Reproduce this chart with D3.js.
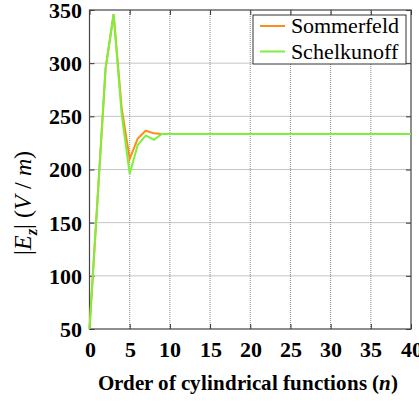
<!DOCTYPE html>
<html><head><meta charset="utf-8">
<script src="https://cdn.jsdelivr.net/npm/d3@7"></script>
<style>
@font-face{font-family:"RefSerif";font-weight:normal;font-style:normal;src:local("Liberation Serif"),local("LiberationSerif"),local("Tinos"),local("Times New Roman");}
@font-face{font-family:"RefSerif";font-weight:bold;font-style:normal;src:local("Liberation Serif Bold"),local("LiberationSerif-Bold"),local("Times New Roman Bold");}
@font-face{font-family:"RefSerif";font-weight:normal;font-style:italic;src:local("Liberation Serif Italic"),local("LiberationSerif-Italic"),local("Times New Roman Italic");}
@font-face{font-family:"RefSerif";font-weight:bold;font-style:italic;src:local("Liberation Serif Bold Italic"),local("LiberationSerif-BoldItalic"),local("Times New Roman Bold Italic");}
body{margin:0;background:#fff}
svg{display:block}
svg text{font-family:"RefSerif","Liberation Serif",serif}
</style>
</head><body>
<script>
const orders = d3.range(0, 41);
const sommerfeld = [50,172,295,346,258,210,229,236.5,234,233.5,233.5,233.5,233.5,233.5,233.5,233.5,233.5,233.5,233.5,233.5,233.5,233.5,233.5,233.5,233.5,233.5,233.5,233.5,233.5,233.5,233.5,233.5,233.5,233.5,233.5,233.5,233.5,233.5,233.5,233.5,233.5];
const schelkunoff = [50,172,295,346,252,196,223,232,228,233.5,233.5,233.5,233.5,233.5,233.5,233.5,233.5,233.5,233.5,233.5,233.5,233.5,233.5,233.5,233.5,233.5,233.5,233.5,233.5,233.5,233.5,233.5,233.5,233.5,233.5,233.5,233.5,233.5,233.5,233.5,233.5];
const xTicks = [0,5,10,15,20,25,30,35,40];
const yTicks = [50,100,150,200,250,300,350];
const seriesNames = ["Sommerfeld","Schelkunoff"];
const seriesColors = ["#ff8c1a","#7cf03a"];

const W=419,H=402;
const L=89.5,R=411,T=10,B=329;
const svg=d3.select("body").append("svg").attr("width",W).attr("height",H);

const x=d3.scaleLinear().domain([0,40]).range([L,R]);
const y=d3.scaleLinear().domain([50,350]).range([B,T]);
const g=svg.append("g");
g.selectAll(".gx").data(xTicks.slice(1,-1)).join("line")
 .attr("x1",d=>x(d)).attr("x2",d=>x(d)).attr("y1",T).attr("y2",B)
 .attr("stroke","#888").attr("stroke-width",1).attr("stroke-dasharray","1,1");
g.selectAll(".gy").data(yTicks.slice(1,-1)).join("line")
 .attr("y1",d=>y(d)).attr("y2",d=>y(d)).attr("x1",L).attr("x2",R)
 .attr("stroke","#888").attr("stroke-width",1).attr("stroke-dasharray","1,1");

const ax=svg.append("g").attr("transform",`translate(0,${B})`).call(d3.axisBottom(x).tickValues(xTicks).tickSize(-5).tickPadding(12));
const ay=svg.append("g").attr("transform",`translate(${L},0)`).call(d3.axisLeft(y).tickValues(yTicks).tickSize(-5).tickPadding(8));
svg.append("g").attr("transform",`translate(0,${T})`).call(d3.axisTop(x).tickValues(xTicks).tickSize(-5).tickFormat(""));
svg.append("g").attr("transform",`translate(${R},0)`).call(d3.axisRight(y).tickValues(yTicks).tickSize(-5).tickFormat(""));
svg.selectAll(".domain").remove();
svg.selectAll(".tick line").attr("stroke","#333");
svg.selectAll("g").attr("font-family",null);
[ax,ay].forEach(a=>{
 a.selectAll("text").attr("font-weight","bold").attr("font-size",22).attr("fill","#000");});
ax.selectAll("text").attr("dy","0.71em");
ay.selectAll("text").attr("dy","0.34em");
svg.append("rect").attr("x",L).attr("y",T).attr("width",R-L).attr("height",B-T)
 .attr("fill","none").attr("stroke","#444").attr("stroke-width",1.2);

const line=d3.line().x((d,i)=>x(orders[i])).y(d=>y(d));
[sommerfeld,schelkunoff].forEach((s,k)=>{
 svg.append("path").datum(s).attr("d",line).attr("fill","none")
  .attr("stroke",seriesColors[k]).attr("stroke-width",2);
});

const lg=svg.append("g");
lg.append("rect").attr("x",253).attr("y",15).attr("width",153).attr("height",49)
 .attr("fill","#fff").attr("stroke","#333").attr("stroke-width",1);
seriesNames.forEach((n,i)=>{
 const yy=26+i*25.5;
 lg.append("line").attr("x1",260).attr("x2",285).attr("y1",yy).attr("y2",yy)
  .attr("stroke",seriesColors[i]).attr("stroke-width",2);
 lg.append("text").attr("x",291).attr("y",yy+7).attr("font-size",22).attr("fill","#000").text(n);
});

const xt=svg.append("text").attr("x",248).attr("y",390).attr("text-anchor","middle")
 .attr("font-weight","bold").attr("font-size",21).attr("fill","#000");
xt.append("tspan").text("Order of cylindrical functions (");
xt.append("tspan").attr("font-style","italic").text("n");
xt.append("tspan").text(")");
const yt=svg.append("text").attr("transform","translate(31,203) rotate(-90)").attr("text-anchor","middle")
 .attr("font-size",24).attr("fill","#000");
yt.append("tspan").text("|");
yt.append("tspan").attr("font-style","italic").text("E");
yt.append("tspan").attr("font-style","italic").attr("font-weight","bold").attr("font-size",16).attr("dy",6).text("z");
yt.append("tspan").attr("dy",-6).text("| (");
yt.append("tspan").attr("font-style","italic").text("V");
yt.append("tspan").text(" / ");
yt.append("tspan").attr("font-style","italic").text("m");
yt.append("tspan").text(")");
</script>
</body></html>
